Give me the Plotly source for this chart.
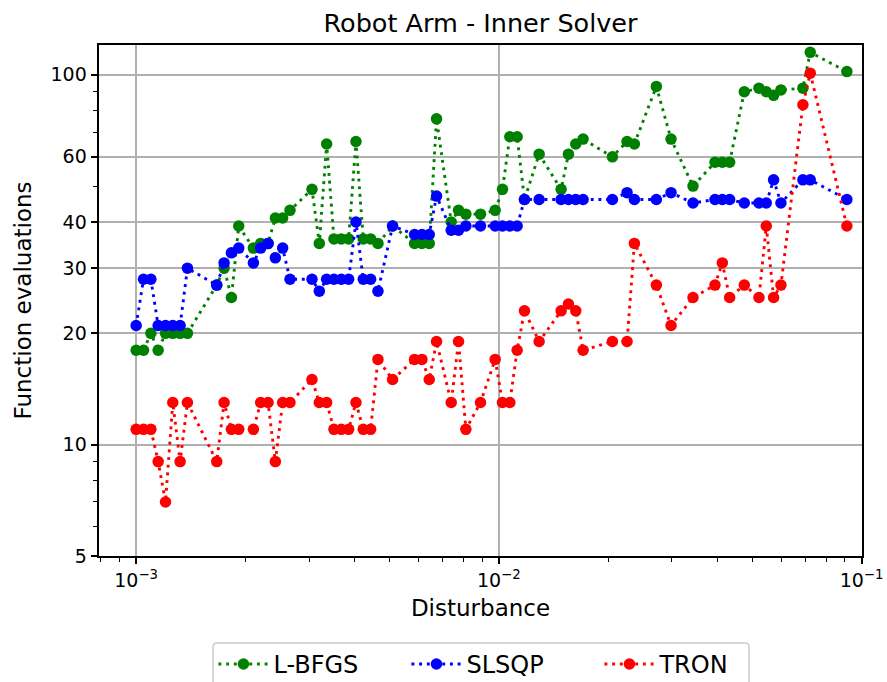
import plotly.graph_objects as go

# Disturbance values (shared by all three solvers)
disturbance = [
    0.001000, 0.001048, 0.001098, 0.001150, 0.001205, 0.001262, 0.001322, 0.001385,
    0.001668, 0.001748, 0.001831, 0.001918, 0.002105, 0.002205, 0.002310, 0.002420,
    0.002535, 0.002656, 0.003054, 0.003199, 0.003352, 0.003511, 0.003678, 0.003854,
    0.004037, 0.004229, 0.004431, 0.004642, 0.005094, 0.005857, 0.006136, 0.006428,
    0.006734, 0.007391, 0.007743, 0.008111, 0.008902, 0.009770, 0.010235, 0.010723,
    0.011233, 0.011768, 0.012915, 0.014850, 0.015557, 0.016298, 0.017074, 0.020565,
    0.022570, 0.023645, 0.027186, 0.029836, 0.034305, 0.039442, 0.041320, 0.043288,
    0.047508, 0.052140, 0.054623, 0.057224, 0.059948, 0.068926, 0.072208, 0.091116,
]

lbfgs = [
    18, 18, 20, 18, 20, 20, 20, 20,
    27, 30, 25, 39, 34, 35, 35, 41,
    41, 43, 49, 35, 65, 36, 36, 36,
    66, 36, 36, 35, 39, 35, 35, 35,
    76, 40, 43, 42, 42, 43, 49, 68,
    68, 46, 61, 49, 61, 65, 67, 60,
    66, 65, 93, 67, 50, 58, 58, 58,
    90, 92, 90, 88, 91, 92, 115, 102,
]

slsqp = [
    21, 28, 28, 21, 21, 21, 21, 30,
    27, 31, 33, 34, 31, 34, 35, 32,
    34, 28, 28, 26, 28, 28, 28, 28,
    40, 28, 28, 26, 39, 37, 37, 37,
    47, 38, 38, 39, 39, 39, 39, 39,
    39, 46, 46, 46, 46, 46, 46, 46,
    48, 46, 46, 48, 45, 46, 46, 46,
    45, 45, 45, 52, 45, 52, 52, 46,
]

tron = [
    11, 11, 11, 9, 7, 13, 9, 13,
    9, 13, 11, 11, 11, 13, 13, 9,
    13, 13, 15, 13, 13, 11, 11, 11,
    13, 11, 11, 17, 15, 17, 17, 15,
    19, 13, 19, 11, 13, 17, 13, 13,
    18, 23, 19, 23, 24, 23, 18, 19,
    19, 35, 27, 21, 25, 27, 31, 25,
    27, 25, 39, 25, 27, 83, 101, 39,
]

series_names = ["L-BFGS", "SLSQP", "TRON"]
series_colors = ["green", "blue", "red"]

x_tick_vals = [0.001, 0.01, 0.1]
x_tick_text = ["10<sup>\u22123</sup>", "10<sup>\u22122</sup>", "10<sup>\u22121</sup>"]
x_minor_vals = [0.0008, 0.0009] + [m * 0.001 for m in range(2, 10)] + [m * 0.01 for m in range(2, 10)]
y_tick_vals = [5, 10, 20, 30, 40, 60, 100]
y_tick_text = ["5", "10", "20", "30", "40", "60", "100"]
y_minor_vals = [6, 7, 8, 9, 50, 70, 80, 90]

FONT = "DejaVu Sans"

fig = go.Figure()
for name, vals, col in zip(series_names, [lbfgs, slsqp, tron], series_colors):
    fig.add_trace(go.Scatter(
        x=disturbance, y=vals, name=name, mode="lines+markers",
        line=dict(color=col, width=2.9, dash="2.9px,4.8px"),
        marker=dict(color=col, size=11.5, line=dict(width=0)),
    ))

axis_common = dict(
    type="log", showline=True, linecolor="black", linewidth=1.5, mirror=True,
    ticks="outside", ticklen=6.7, tickwidth=1.5, tickcolor="black",
    showgrid=True, gridcolor="#b0b0b0", gridwidth=1.5, zeroline=False,
    tickfont=dict(family=FONT, size=19, color="black"),
)

fig.update_xaxes(
    **axis_common,
    range=[-3.1024, -0.9987],
    tickmode="array", tickvals=x_tick_vals, ticktext=x_tick_text,
    minor=dict(tickmode="array", tickvals=x_minor_vals, ticks="outside",
               ticklen=3.9, tickwidth=1.2, tickcolor="black", showgrid=False),
    title=dict(text="Disturbance", font=dict(family=FONT, size=23, color="black"), standoff=10),
)
fig.update_yaxes(
    **axis_common,
    range=[0.69897, 2.0805],
    tickmode="array", tickvals=y_tick_vals, ticktext=y_tick_text,
    minor=dict(tickmode="array", tickvals=y_minor_vals, ticks="outside",
               ticklen=3.9, tickwidth=1.2, tickcolor="black", showgrid=False),
    title=dict(text="Function evaluations", font=dict(family=FONT, size=23, color="black"), standoff=12),
)

# legend frame (rounded box like the reference)
x0, x1, y0, y1 = 0.1494, 0.8519, -0.1703, -0.30
rx, ry = 0.0052, 0.0078
frame_path = (f"M{x0 + rx},{y0} L{x1 - rx},{y0} Q{x1},{y0} {x1},{y0 - ry} "
              f"L{x1},{y1 + ry} Q{x1},{y1} {x1 - rx},{y1} L{x0 + rx},{y1} "
              f"Q{x0},{y1} {x0},{y1 + ry} L{x0},{y0 - ry} Q{x0},{y0} {x0 + rx},{y0} Z")

fig.update_layout(
    width=887, height=682,
    margin=dict(l=99, r=25, t=45, b=126, autoexpand=False),
    paper_bgcolor="white", plot_bgcolor="white",
    font=dict(family=FONT, size=19, color="black"),
    title=dict(text="Robot Arm - Inner Solver", x=0.5, xref="paper", xanchor="center",
               y=1 - 23 / 682, yref="container", yanchor="middle",
               font=dict(family=FONT, size=25.5, color="black")),
    showlegend=True,
    legend=dict(orientation="h", x=0.150, xanchor="left", y=-0.168, yanchor="top",
                borderwidth=0, bgcolor="rgba(0,0,0,0)",
                font=dict(family=FONT, size=24, color="black"),
                entrywidth=128, entrywidthmode="pixels", itemwidth=50),
    shapes=[dict(type="path", xref="paper", yref="paper", path=frame_path,
                 line=dict(color="#cccccc", width=1.5), fillcolor="rgba(0,0,0,0)",
                 layer="above")],
)

fig.write_html("out.html", post_script="document.body.style.margin='0';",
               config={"displayModeBar": False})
